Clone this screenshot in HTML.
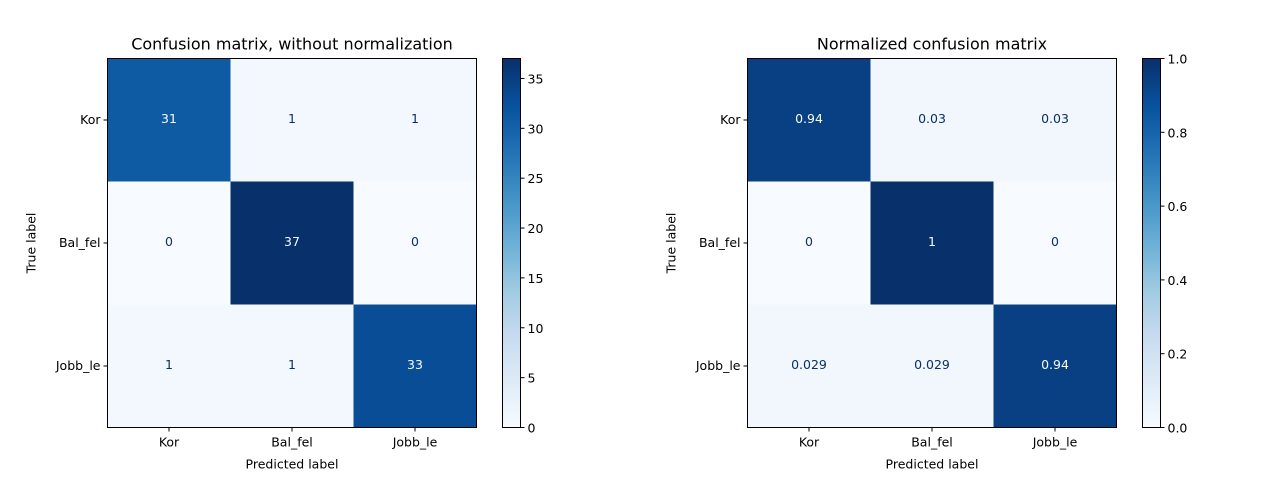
<!DOCTYPE html>
<html><head><meta charset="utf-8">
<style>body{margin:0;background:#fff}svg{display:block;font-family:"DejaVu Sans","Liberation Sans",sans-serif}</style>
</head><body>
<svg id="c" width="1280" height="480"></svg>
<script>
const classLabels = ["Kor","Bal_fel","Jobb_le"];
const countsMatrix = [[31,1,1],[0,37,0],[1,1,33]];
const normMatrix = [[0.94,0.03,0.03],[0,1,0],[0.029,0.029,0.94]];
const normText = [["0.94","0.03","0.03"],["0","1","0"],["0.029","0.029","0.94"]];
const countTicks = [0,5,10,15,20,25,30,35];
const normTicks = ["0.0","0.2","0.4","0.6","0.8","1.0"];
const NS="http://www.w3.org/2000/svg";
const svg=document.getElementById('c');
const stops=["#f7fbff","#deebf7","#c6dbef","#9ecae1","#6baed6","#4292c6","#2171b5","#08519c","#08306b"];
function hex(h){return [1,3,5].map(i=>parseInt(h.substr(i,2),16));}
function cmap(t){t=Math.max(0,Math.min(1,t));const p=t*8,i=Math.min(7,Math.floor(p)),f=p-i;const a=hex(stops[i]),b=hex(stops[i+1]);return `rgb(${a.map((v,k)=>Math.round(v+(b[k]-v)*f)).join(',')})`;}
function el(tag,attrs,name,parent){const e=document.createElementNS(NS,tag);for(const k in attrs)e.setAttribute(k,attrs[k]);


(parent||svg).appendChild(e);return e;}
function txt(x,y,s,name,opts){const t=el('text',Object.assign({x:x,y:y,'font-size':12.5,'text-anchor':'middle',fill:'#000'},opts||{}),name);t.textContent=s;return t;}
let gid=0;
function panel(x0,y0,size,cbx,title,mat,labels,vmax,ticks,tickVals){
  const cs=size/3;
  txt(x0+size/2,y0-9,title,'plot-title',{'font-size':16});
  for(let r=0;r<3;r++)for(let c=0;c<3;c++){
    const v=mat[r][c];
    el('rect',{x:x0+c*cs,y:y0+r*cs,width:cs+0.5,height:cs+0.5,fill:cmap(v/vmax)},'cell-'+r+'-'+c);
    txt(x0+c*cs+cs/2,y0+r*cs+cs/2+3,labels[r][c],'cell-value-'+r+'-'+c,{fill:v>vmax/2?'#f7fbff':'#08306b'});
  }
  el('rect',{x:x0,y:y0,width:size,height:size,fill:'none',stroke:'#000','stroke-width':1},'plot-frame');
  for(let i=0;i<3;i++){
    const cx=x0+i*cs+cs/2,cy=y0+i*cs+cs/2;
    el('line',{x1:cx,y1:y0+size,x2:cx,y2:y0+size+4,stroke:'#000'},'x-tick');
    txt(cx,y0+size+19,classLabels[i],'x-tick-label');
    el('line',{x1:x0-4,y1:cy,x2:x0,y2:cy,stroke:'#000'},'y-tick');
    txt(x0-7,cy+4,classLabels[i],'y-tick-label',{'text-anchor':'end'});
  }
  txt(x0+size/2,y0+size+41,'Predicted label','x-axis-title');
  txt(0,0,'True label','y-axis-title',{transform:`translate(${x0-72},${y0+size/2}) rotate(-90)`});
  const id='g'+(gid++);
  const lg=el('linearGradient',{id:id,x1:0,y1:1,x2:0,y2:0},'colorbar-gradient');
  for(let i=0;i<=8;i++)el('stop',{offset:i/8,'stop-color':stops[i]},'gradient-stop',lg);
  el('rect',{x:cbx,y:y0,width:18,height:size,fill:`url(#${id})`,stroke:'#000','stroke-width':1},'colorbar');
  ticks.forEach((t,i)=>{const v=tickVals[i];const y=y0+size-v/vmax*size;
    el('line',{x1:cbx+18,y1:y,x2:cbx+22,y2:y,stroke:'#000'},'colorbar-tick');
    txt(cbx+25,y+5,String(t),'colorbar-tick-label',{'text-anchor':'start'});});
}
panel(107.5,58.5,369,502.5,'Confusion matrix, without normalization',countsMatrix,countsMatrix.map(r=>r.map(String)),37,countTicks,countTicks);
panel(747.5,58.5,369,1142.5,'Normalized confusion matrix',normMatrix,normText,1,normTicks,normTicks.map(Number));
</script>
</body></html>
